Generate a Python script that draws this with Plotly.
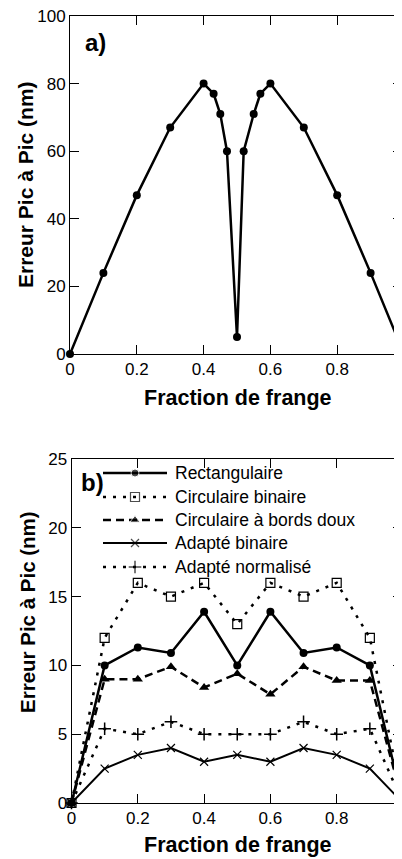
import plotly.graph_objects as go

# ---------------- data ----------------
frac_a = [0, 0.1, 0.2, 0.3, 0.4, 0.43, 0.45, 0.47, 0.5, 0.52, 0.55, 0.57, 0.6, 0.7, 0.8, 0.9, 1.0]
err_a = [0, 24, 47, 67, 80, 77, 71, 60, 5, 60, 71, 77, 80, 67, 47, 24, 0]

frac_b = [0, 0.1, 0.2, 0.3, 0.4, 0.5, 0.6, 0.7, 0.8, 0.9, 1.0]
rectangulaire = [0, 10, 11.3, 10.9, 13.9, 10, 13.9, 10.9, 11.3, 10, 0]
circ_binaire = [0, 12, 16, 15, 16, 13, 16, 15, 16, 12, 0]
circ_doux = [0, 9, 9, 9.9, 8.4, 9.4, 7.9, 9.9, 8.9, 8.9, 0]
adapte_binaire = [0, 2.5, 3.5, 4, 3, 3.5, 3, 4, 3.5, 2.5, 0]
adapte_norm = [0, 5.4, 5, 5.9, 5, 5, 5, 5.9, 5, 5.4, 0]

series_names = ["Rectangulaire", "Circulaire binaire", "Circulaire à bords doux",
                "Adapté binaire", "Adapté normalisé"]

x_ticks = [0, 0.2, 0.4, 0.6, 0.8, 1.0]
x_ticktext = ["0", "0.2", "0.4", "0.6", "0.8", "1"]
ya_ticks = [0, 20, 40, 60, 80, 100]
yb_ticks = [0, 5, 10, 15, 20, 25]

# ---------------- layout geometry (window pixels) ----------------
WIN_W, WIN_H = 402, 859
OFF = 8  # default page body margin
W, H = WIN_W - OFF, WIN_H - OFF
FONT = "Liberation Sans, Arial, sans-serif"


def px_x(p):
    return (p - OFF) / W


def px_y(p):
    return 1 - (p - OFF) / H


styles = [
    dict(line=dict(color="black", width=2.5), marker=dict(symbol="circle", size=8, color="black")),
    dict(line=dict(color="black", width=2.5, dash="3px,7px"),
         marker=dict(symbol="square-open", size=9, color="black", line=dict(width=1.2, color="black"))),
    dict(line=dict(color="black", width=2.5, dash="8px,5px"),
         marker=dict(symbol="triangle-up", size=9, color="black")),
    dict(line=dict(color="black", width=2), marker=dict(symbol="x-thin-open", size=8, color="black",
                                                        line=dict(width=1.2, color="black"))),
    dict(line=dict(color="black", width=2.5, dash="3px,7px"),
         marker=dict(symbol="cross-thin-open", size=9, color="black", line=dict(width=1.5, color="black"))),
]

fig = go.Figure()

# panel a
fig.add_trace(go.Scatter(x=frac_a, y=err_a, mode="lines+markers", xaxis="x", yaxis="y",
                         line=dict(color="black", width=2.5),
                         marker=dict(symbol="circle", size=8, color="black"),
                         cliponaxis=False, showlegend=False))

# panel b
for name, vals, st in zip(series_names,
                          [rectangulaire, circ_binaire, circ_doux, adapte_binaire, adapte_norm],
                          styles):
    fig.add_trace(go.Scatter(x=frac_b, y=vals, mode="lines+markers", name=name,
                             xaxis="x2", yaxis="y2", line=st["line"], marker=st["marker"],
                             cliponaxis=False, showlegend=False))

# custom legend glyphs on a full-figure pixel overlay axis
leg_rows = [473, 497, 520, 543, 567]
for name, st, ry in zip(series_names, styles, leg_rows):
    mk = dict(st["marker"])
    mk["size"] = [0, mk["size"], 0]
    fig.add_trace(go.Scatter(x=[103, 135, 167], y=[ry, ry, ry], mode="lines+markers",
                             xaxis="x3", yaxis="y3", line=st["line"], marker=mk,
                             cliponaxis=False, showlegend=False, hoverinfo="skip"))
    fig.add_annotation(x=px_x(173), y=px_y(ry), xref="paper", yref="paper", text=name,
                       showarrow=False, xanchor="left", yanchor="middle",
                       font=dict(family=FONT, size=17.5, color="black"))

axis_common = dict(showline=True, linecolor="black", linewidth=1, mirror="ticks",
                   ticks="inside", ticklen=9, tickwidth=1, tickcolor="black",
                   showgrid=False, zeroline=False, automargin=False,
                   ticklabeloverflow="allow",
                   tickfont=dict(family=FONT, size=17, color="black"))

fig.update_layout(
    width=W, height=H,
    margin=dict(l=0, r=0, t=0, b=0),
    paper_bgcolor="white", plot_bgcolor="rgba(0,0,0,0)",
    xaxis=dict(domain=[px_x(70), 1], range=[0, 332 / 334], tickvals=x_ticks, ticktext=x_ticktext,
               anchor="y", **axis_common),
    yaxis=dict(domain=[px_y(354), px_y(16)], range=[0, 100], tickvals=ya_ticks, anchor="x",
               **axis_common),
    xaxis2=dict(domain=[px_x(71.5), 1], range=[0, 330.5 / 331.5], tickvals=x_ticks, ticktext=x_ticktext,
                anchor="y2", **axis_common),
    yaxis2=dict(domain=[px_y(803), px_y(459)], range=[0, 25], tickvals=yb_ticks, anchor="x2",
                **axis_common),
    xaxis3=dict(domain=[0, 1], range=[OFF, WIN_W], visible=False, anchor="y3"),
    yaxis3=dict(domain=[0, 1], range=[WIN_H, OFF], visible=False, anchor="x3"),
)

for (x, y, txt, ang, fs) in [
    (238, 398, "<b>Fraction de frange</b>", 0, 21.5),
    (238, 845, "<b>Fraction de frange</b>", 0, 21.5),
    (25, 185, "<b>Erreur Pic à Pic (nm)</b>", -90, 21),
    (27, 612, "<b>Erreur Pic à Pic (nm)</b>", -90, 20.5),
    (95, 43, "<b>a)</b>", 0, 24),
    (92, 482, "<b>b)</b>", 0, 24),
]:
    fig.add_annotation(x=px_x(x), y=px_y(y), xref="paper", yref="paper", text=txt,
                       showarrow=False, xanchor="center", yanchor="middle", textangle=ang,
                       font=dict(family=FONT, size=fs, color="black"))

fig.write_html("out.html")
